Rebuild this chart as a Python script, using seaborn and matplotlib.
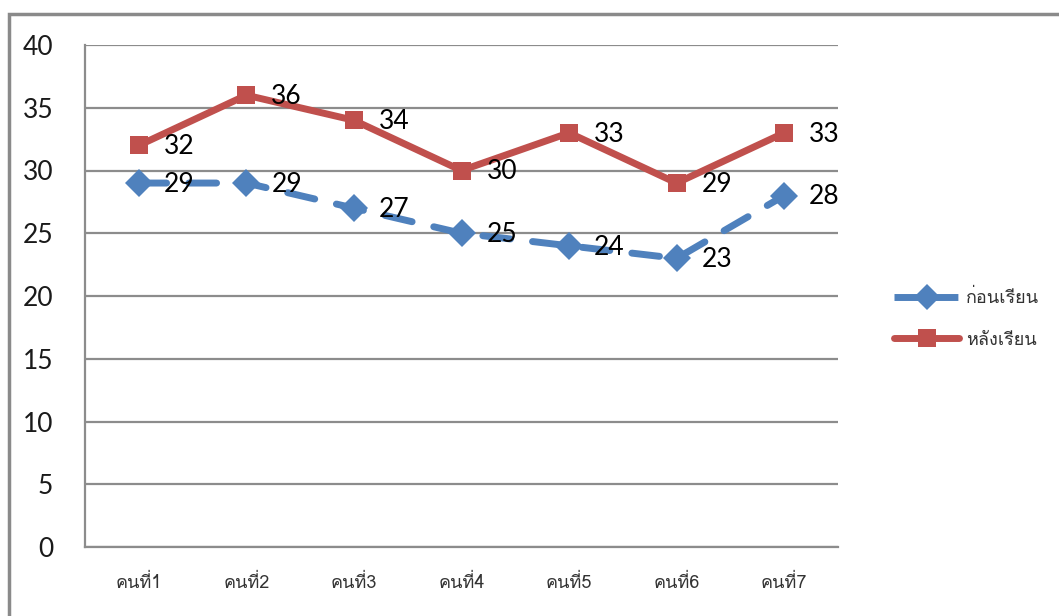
import matplotlib
matplotlib.use("Agg")
import matplotlib.pyplot as plt
from matplotlib.lines import Line2D
from matplotlib.patches import Rectangle
import seaborn as sns
import pandas as pd
import numpy as np

# Scores per student before and after the lesson
students = ["คนที่1", "คนที่2", "คนที่3", "คนที่4", "คนที่5", "คนที่6", "คนที่7"]
before = [29, 29, 27, 25, 24, 23, 28]
after = [32, 36, 34, 30, 33, 29, 33]
series_names = ["ก่อนเรียน", "หลังเรียน"]
y_ticks = [0, 5, 10, 15, 20, 25, 30, 35, 40]

sns.set_theme(style="white")
plt.rcParams["font.family"] = ["Lato", "DejaVu Sans"]
thai_family = ["Loma", "Noto Sans Thai Looped", "DejaVu Sans"]

blue = "#4F81BD"
red = "#C0504D"
grid_col = "#8C8C8C"

df = pd.DataFrame({
    "pos": list(range(len(students))) * 2,
    "score": before + after,
    "series": [series_names[0]] * len(before) + [series_names[1]] * len(after),
})

fig = plt.figure(figsize=(10.59, 6.16), dpi=100)
ax = fig.add_axes([85 / 1059, 69 / 616, 753 / 1059, 502 / 616])

# outer chart frame
fig.add_artist(Rectangle((9 / 1059, -0.05), 1.2, 1 - 14 / 616 + 0.05,
                         transform=fig.transFigure, fill=False,
                         edgecolor="#8A8A8A", linewidth=2.5, zorder=0))

sns.lineplot(data=df[df["series"] == series_names[0]], x="pos", y="score",
             ax=ax, color=blue, linewidth=5, marker="D", markersize=14,
             markeredgewidth=0, dashes=False, zorder=3, legend=False)
sns.lineplot(data=df[df["series"] == series_names[1]], x="pos", y="score",
             ax=ax, color=red, linewidth=5, marker="s", markersize=13,
             markeredgewidth=0, zorder=4, legend=False)
ax.lines[0].set_dashes((4, 3.2))
ax.lines[0].set_dash_capstyle("round")

for i, v in enumerate(before):
    ax.annotate(str(v), (i, v), xytext=(18, -1), textcoords="offset points",
                ha="left", va="center", fontsize=19, color="black", zorder=5)
for i, v in enumerate(after):
    ax.annotate(str(v), (i, v), xytext=(18, -1), textcoords="offset points",
                ha="left", va="center", fontsize=19, color="black", zorder=5)

ax.set_xlim(-0.5, len(students) - 0.5)
ax.set_ylim(0, 40)
ax.set_yticks(y_ticks)
ax.set_yticklabels([str(t) for t in y_ticks], fontsize=19, color="#1a1a1a")
ax.yaxis.grid(True, color=grid_col, linewidth=1.6)
ax.set_axisbelow(True)

ax.set_xticks(range(len(students)))
ax.set_xticklabels(students, family=thai_family, fontsize=13, color="#333333")
ax.set_xticks(np.arange(-0.5, len(students), 1.0), minor=True)
ax.tick_params(axis="x", which="major", length=0, pad=19)
ax.tick_params(axis="x", which="minor", length=7, width=1.6, color=grid_col, direction="out")
ax.tick_params(axis="y", length=7, width=1.6, color=grid_col, direction="out", pad=16)
ax.set_xlabel("")
ax.set_ylabel("")

for side in ["top", "right"]:
    ax.spines[side].set_visible(False)
for side in ["left", "bottom"]:
    ax.spines[side].set_color(grid_col)
    ax.spines[side].set_linewidth(1.6)

handles = [
    Line2D([], [], color=blue, linewidth=5, marker="D", markersize=13,
           markeredgewidth=0, dashes=(4, 1.2)),
    Line2D([], [], color=red, linewidth=5, marker="s", markersize=13,
           markeredgewidth=0),
]
leg = fig.legend(handles, series_names, loc="center left",
                 bbox_to_anchor=(878 / 1059, 1 - 319 / 616), frameon=False,
                 handlelength=3.6, handletextpad=0.4, labelspacing=1.3,
                 prop={"family": thai_family, "size": 13})
for t in leg.get_texts():
    t.set_color("#333333")

fig.savefig("out.png", dpi=100)
